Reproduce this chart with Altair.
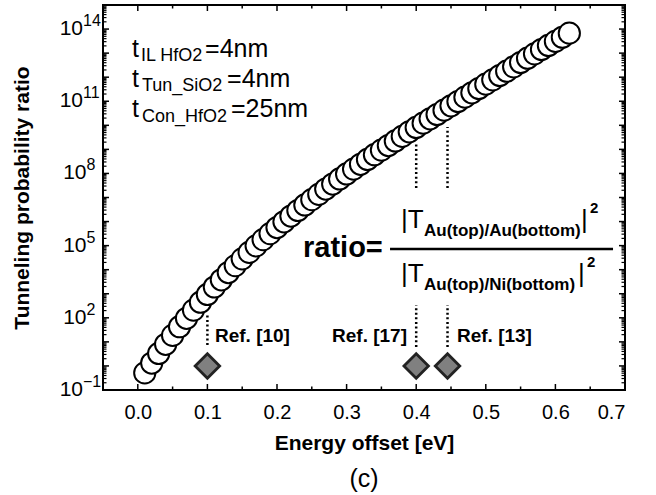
import altair as alt
import pandas as pd

FONT = "Liberation Sans"

# ---------------- data ----------------
energy_ev = [0.01, 0.02, 0.03, 0.04, 0.05, 0.06, 0.07, 0.08, 0.09, 0.10,
             0.11, 0.12, 0.13, 0.14, 0.15, 0.16, 0.17, 0.18, 0.19, 0.20,
             0.21, 0.22, 0.23, 0.24, 0.25, 0.26, 0.27, 0.28, 0.29, 0.30,
             0.31, 0.32, 0.33, 0.34, 0.35, 0.36, 0.37, 0.38, 0.39, 0.40,
             0.41, 0.42, 0.43, 0.44, 0.45, 0.46, 0.47, 0.48, 0.49, 0.50,
             0.51, 0.52, 0.53, 0.54, 0.55, 0.56, 0.57, 0.58, 0.59, 0.60,
             0.61, 0.62]
log10_ratio = [-0.29, 0.12, 0.52, 0.90, 1.27, 1.63, 1.98, 2.32, 2.65, 2.97,
               3.28, 3.58, 3.88, 4.17, 4.45, 4.72, 4.99, 5.25, 5.50, 5.75,
               5.99, 6.23, 6.46, 6.69, 6.91, 7.13, 7.35, 7.56, 7.77, 7.98,
               8.18, 8.38, 8.58, 8.78, 8.97, 9.16, 9.35, 9.54, 9.73, 9.91,
               10.09, 10.27, 10.45, 10.63, 10.81, 10.99, 11.17, 11.35, 11.53, 11.71,
               11.89, 12.07, 12.25, 12.43, 12.61, 12.79, 12.97, 13.15, 13.32, 13.49,
               13.66, 13.83]

ref_names = ["Ref. [10]", "Ref. [17]", "Ref. [13]"]
ref_energy = [0.10, 0.40, 0.445]
ref_ratio = [1.0, 1.0, 1.0]

x_tick_values = [0.0, 0.1, 0.2, 0.3, 0.4, 0.5, 0.6, 0.7]
x_minor_values = [0.05, 0.15, 0.25, 0.35, 0.45, 0.55, 0.65]
y_label_exps = ["\u22121", "2", "5", "8", "11", "14"]
y_label_vals = [1e-1, 1e2, 1e5, 1e8, 1e11, 1e14]
decade_exps = list(range(-1, 16))

# ---------------- frames ----------------
df = pd.DataFrame({"energy": energy_ev, "ratio": [10 ** v for v in log10_ratio]})
df_ref = pd.DataFrame({"energy": ref_energy, "ratio": ref_ratio, "name": ref_names})
df_ylab = pd.DataFrame({"v": y_label_vals, "e": y_label_exps})
major_y = pd.DataFrame({"v": [10.0 ** e for e in decade_exps]})
minor_y = pd.DataFrame({"v": [k * 10.0 ** e for e in decade_exps[:-1] for k in range(2, 10)]})
major_x = pd.DataFrame({"v": x_tick_values})
minor_x = pd.DataFrame({"v": x_minor_values})
one = pd.DataFrame({"a": [0]})

W, H = 522, 385
xs = alt.Scale(domain=[-0.05, 0.7], nice=False, zero=False)
ys = alt.Scale(type="log", domain=[0.1, 1e15], nice=False)

x_axis = alt.Axis(values=x_tick_values, format=".1f", labelFontSize=20, labelFont=FONT,
                  labelColor="black", ticks=False, tickSize=0, domain=False, grid=False,
                  labelPadding=12, title="Energy offset [eV]", titleFontSize=21,
                  titleFontWeight="bold", titleFont=FONT, titleColor="black", titlePadding=10)
y_axis = alt.Axis(labels=False, ticks=False, tickSize=0, domain=False, grid=False,
                  title="Tunneling probability ratio", titleFontSize=21, titleFontWeight="bold",
                  titleFont=FONT, titleColor="black", titlePadding=71)


def X(field):
    return alt.X(field, type="quantitative", scale=xs, axis=x_axis)


def Y(field):
    return alt.Y(field, type="quantitative", scale=ys, axis=y_axis)


def txt(s, x, logy, size, weight="normal", align="left", baseline="alphabetic"):
    return alt.Chart(one).mark_text(
        text=s, font=FONT, fontSize=size, fontWeight=weight, align=align,
        baseline=baseline, color="black"
    ).encode(x=alt.XDatum(x, scale=xs, axis=x_axis), y=alt.YDatum(10 ** logy, scale=ys, axis=y_axis))


layers = []

main = alt.Chart(df).mark_circle(fill="white", stroke="black", strokeWidth=2,
                                 size=450, opacity=1).encode(
    x=X("energy"), y=Y("ratio"))

# dotted guide lines
dots = pd.DataFrame({
    "x": [0.10, 0.40, 0.40, 0.445, 0.445],
    "y1": [10 ** 0.87, 10 ** 0.79, 10 ** 7.40, 10 ** 0.79, 10 ** 7.40],
    "y2": [10 ** 2.2, 10 ** 2.53, 10 ** 9.27, 10 ** 2.53, 10 ** 9.93],
})
layers.append(alt.Chart(dots).mark_rule(color="black", strokeWidth=2.5, strokeDash=[2, 2.6]).encode(
    x=X("x"), y=Y("y1"), y2="y2"))

layers.append(main)

layers.append(alt.Chart(df_ref).mark_point(shape="diamond", filled=True, fill="#808080",
                                           stroke="#222222", strokeWidth=2.8, size=600,
                                           opacity=1).encode(
    x=X("energy"), y=Y("ratio")))

# inward ticks
layers.append(alt.Chart(major_y).mark_rule(color="black", strokeWidth=1.5).encode(
    y=Y("v"), x=alt.value(0), x2=alt.value(6)))
layers.append(alt.Chart(minor_y).mark_rule(color="black", strokeWidth=1.2).encode(
    y=Y("v"), x=alt.value(0), x2=alt.value(3.5)))
layers.append(alt.Chart(major_y).mark_rule(color="black", strokeWidth=1.5).encode(
    y=Y("v"), x=alt.value(W), x2=alt.value(W - 6)))
layers.append(alt.Chart(minor_y).mark_rule(color="black", strokeWidth=1.2).encode(
    y=Y("v"), x=alt.value(W), x2=alt.value(W - 3.5)))
layers.append(alt.Chart(major_x).mark_rule(color="black", strokeWidth=1.5).encode(
    x=X("v"), y=alt.value(H), y2=alt.value(H - 6)))
layers.append(alt.Chart(minor_x).mark_rule(color="black", strokeWidth=1.5).encode(
    x=X("v"), y=alt.value(H), y2=alt.value(H - 3.5)))
layers.append(alt.Chart(major_x).mark_rule(color="black", strokeWidth=1.5).encode(
    x=X("v"), y=alt.value(0), y2=alt.value(6)))
layers.append(alt.Chart(minor_x).mark_rule(color="black", strokeWidth=1.5).encode(
    x=X("v"), y=alt.value(0), y2=alt.value(3.5)))

# y tick labels 10^n
for n, xpos in [(2, -20), (1, -16.5)]:
    flt = f"length(datum.e) == {n}"
    layers.append(alt.Chart(df_ylab).transform_filter(flt).mark_text(
        text="10", font=FONT, fontSize=21, align="right", baseline="middle", color="black"
    ).encode(y=Y("v"), x=alt.value(xpos)))
    layers.append(alt.Chart(df_ylab).transform_filter(flt).mark_text(
        font=FONT, fontSize=16, align="left", baseline="middle", dy=-8, color="black"
    ).encode(y=Y("v"), x=alt.value(xpos), text="e:N"))

# reference labels
layers.append(txt("Ref. [10]", 0.1109, 1.244, 19, "bold", "left", "middle"))
layers.append(txt("Ref. [17]", 0.3868, 1.244, 19, "bold", "right", "middle"))
layers.append(txt("Ref. [13]", 0.4586, 1.244, 19, "bold", "left", "middle"))

# thickness annotations
for (sub, val, base_y, sub_y, sub_x, val_x) in [
    ("IL HfO2", "=4nm", 12.839, 12.673, 0.0046, 0.0966),
    ("Tun_SiO2", "=4nm", 11.592, 11.426, 0.0060, 0.1282),
    ("Con_HfO2", "=25nm", 10.345, 10.138, 0.0060, 0.1339),
]:
    layers.append(txt("t", -0.0083, base_y, 25))
    layers.append(txt(sub, sub_x, sub_y, 18))
    layers.append(txt(val, val_x, base_y, 25))

# ratio formula
layers.append(txt("ratio=", 0.2374, 4.527, 29, "bold"))
layers.append(alt.Chart(one).mark_rule(color="black", strokeWidth=2.5).encode(
    x=alt.XDatum(0.3624, scale=xs, axis=x_axis), x2=alt.X2Datum(0.6828),
    y=alt.YDatum(10 ** 4.86, scale=ys, axis=y_axis)))
layers.append(txt("|T", 0.3782, 5.732, 26))
layers.append(txt("Au(top)/Au(bottom)", 0.4112, 5.400, 17, "bold"))
layers.append(txt("|", 0.6368, 5.732, 26))
layers.append(txt("2", 0.6497, 6.356, 15, "bold"))
layers.append(txt("|T", 0.3782, 3.488, 26))
layers.append(txt("Au(top)/Ni(bottom)", 0.4112, 3.156, 17, "bold"))
layers.append(txt("|", 0.6325, 3.488, 26))
layers.append(txt("2", 0.6454, 4.112, 15, "bold"))

chart = alt.layer(*layers).properties(
    width=W, height=H,
    autosize=alt.AutoSizeParams(type="none"),
    padding={"left": 103, "top": 5, "right": 31, "bottom": 105},
    title=alt.TitleParams("(c)", orient="bottom", anchor="middle", fontSize=25,
                          fontWeight="normal", font=FONT, color="black", offset=14),
).configure_view(stroke="black", strokeWidth=2)

chart.save("out.html", embed_options={"renderer": "svg", "actions": False})
